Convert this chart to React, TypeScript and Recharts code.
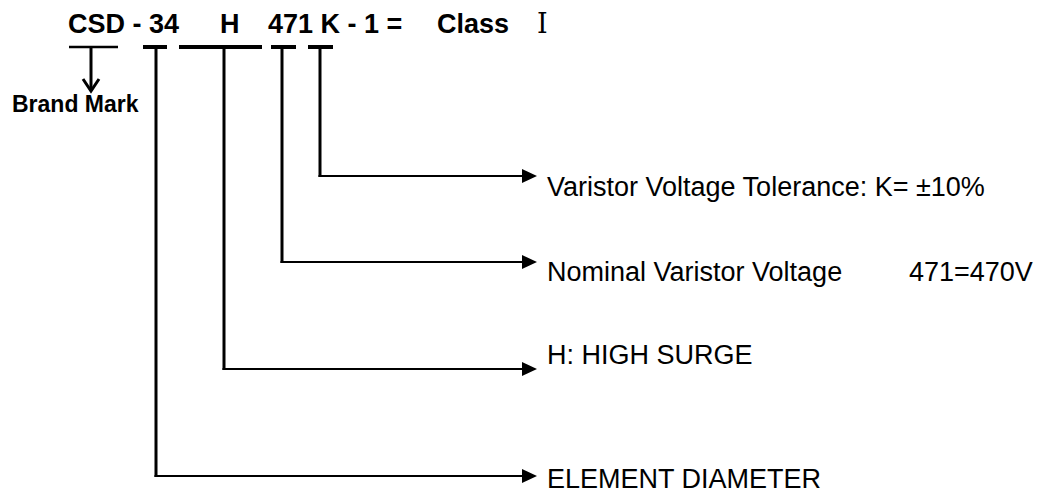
import { Scatter, ScatterChart, XAxis, YAxis } from 'recharts'

// diagram units: one unit = one pixel of the 1042x493 drawing, y grows downward
const W = 1042
const H = 493

const headerBaseline = 33
const headerParts = [
  { x: 68, text: 'CSD - 34' },
  { x: 220, text: 'H' },
  { x: 268, text: '471 K - 1 =' },
  { x: 437, text: 'Class' },
]
const romanNumeral = { x: 537, text: 'Ⅰ' }

const underlineY = 47
const brandUnderline = { from: 69, to: 118 }
const brandArrowX = 91
const brandArrowTip = 91
const brandLabel = { x: 12, y: 112, text: 'Brand Mark' }

// one entry per code segment, top to bottom of the callouts
const codeNames = ['K', '471', 'H', '34']
const codeUnderlineFrom = [308, 271, 179, 143]
const codeUnderlineTo = [333, 296, 262, 167]
const leaderX = [320, 282, 224, 156]
const leaderY = [176, 262, 369, 476]
const arrowTipX = 537
const calloutLabels = [
  'Varistor Voltage Tolerance: K= ±10%',
  'Nominal Varistor Voltage',
  'H: HIGH SURGE',
  'ELEMENT DIAMETER',
]
const labelX = 547
const labelBaseline = [196, 281, 364, 488]
const extraNote = { x: 909, y: 281, text: '471=470V' }

const font = '"Liberation Sans", Arial, Helvetica, sans-serif'

const Empty = () => <g />

type ShapeProps = { cx?: number; cy?: number; payload?: { text?: string } }

const HeaderText = ({ cx, cy, payload }: ShapeProps) => (
  <text x={cx} y={cy} fontFamily={font} fontWeight="bold" fontSize={27} fill="#000">
    {payload?.text}
  </text>
)

const RomanText = ({ cx, cy, payload }: ShapeProps) => (
  <text x={cx} y={cy} fontFamily='"DejaVu Serif", "Liberation Serif", serif' fontSize={27} fill="#000">
    {payload?.text}
  </text>
)

const BrandText = ({ cx, cy, payload }: ShapeProps) => (
  <text x={cx} y={cy} fontFamily={font} fontWeight="bold" fontSize={23} fill="#000">
    {payload?.text}
  </text>
)

const LabelText = ({ cx, cy, payload }: ShapeProps) => (
  <text x={cx} y={cy} fontFamily={font} fontSize={27} fill="#000">
    {payload?.text}
  </text>
)

const ArrowRight = ({ cx = 0, cy = 0 }: ShapeProps) => (
  <polygon points={`${cx},${cy} ${cx - 15},${cy - 7} ${cx - 15},${cy + 7}`} fill="#000" />
)

const ArrowDown = ({ cx = 0, cy = 0 }: ShapeProps) => (
  <polyline
    points={`${cx - 8},${cy - 12} ${cx},${cy} ${cx + 8},${cy - 12}`}
    fill="none"
    stroke="#000"
    strokeWidth={3}
  />
)

export default function App() {
  const headerData = headerParts.map((p) => ({ x: p.x, y: headerBaseline, text: p.text }))
  const romanData = [{ x: romanNumeral.x, y: headerBaseline, text: romanNumeral.text }]
  const brandData = [brandLabel]
  const labelData = calloutLabels
    .map((text, i) => ({ x: labelX, y: labelBaseline[i], text }))
    .concat([extraNote])
  const arrowData = leaderY.map((y) => ({ x: arrowTipX, y }))

  return (
    <div style={{ position: 'absolute', left: 0, top: 0, width: W, height: H, background: '#fff' }}>
      <ScatterChart width={W} height={H} margin={{ top: 0, right: 0, bottom: 0, left: 0 }}>
        <XAxis type="number" dataKey="x" domain={[0, W]} hide allowDataOverflow />
        <YAxis type="number" dataKey="y" domain={[0, H]} reversed hide allowDataOverflow />

        {/* underline under the brand letters and its down arrow */}
        <Scatter
          data={[
            { x: brandUnderline.from, y: underlineY },
            { x: brandUnderline.to, y: underlineY },
          ]}
          line={{ stroke: '#000', strokeWidth: 2.5 }}
          shape={Empty}
          isAnimationActive={false}
        />
        <Scatter
          data={[
            { x: brandArrowX, y: underlineY },
            { x: brandArrowX, y: brandArrowTip },
          ]}
          line={{ stroke: '#000', strokeWidth: 3 }}
          shape={Empty}
          isAnimationActive={false}
        />
        <Scatter data={[{ x: brandArrowX, y: brandArrowTip }]} shape={ArrowDown} isAnimationActive={false} />

        {/* code underlines, leader lines */}
        {codeNames.map((name, i) => (
          <Scatter
            key={`ul-${name}`}
            data={[
              { x: codeUnderlineFrom[i], y: underlineY },
              { x: codeUnderlineTo[i], y: underlineY },
            ]}
            line={{ stroke: '#000', strokeWidth: 4 }}
            shape={Empty}
            isAnimationActive={false}
          />
        ))}
        {codeNames.map((name, i) => (
          <Scatter
            key={`v-${name}`}
            data={[
              { x: leaderX[i], y: underlineY },
              { x: leaderX[i], y: leaderY[i] + 1 },
            ]}
            line={{ stroke: '#000', strokeWidth: 3 }}
            shape={Empty}
            isAnimationActive={false}
          />
        ))}
        {codeNames.map((name, i) => (
          <Scatter
            key={`h-${name}`}
            data={[
              { x: leaderX[i] - 1.5, y: leaderY[i] },
              { x: arrowTipX - 8, y: leaderY[i] },
            ]}
            line={{ stroke: '#000', strokeWidth: 2 }}
            shape={Empty}
            isAnimationActive={false}
          />
        ))}
        <Scatter data={arrowData} shape={ArrowRight} isAnimationActive={false} />

        <Scatter data={headerData} shape={HeaderText} isAnimationActive={false} />
        <Scatter data={romanData} shape={RomanText} isAnimationActive={false} />
        <Scatter data={brandData} shape={BrandText} isAnimationActive={false} />
        <Scatter data={labelData} shape={LabelText} isAnimationActive={false} />
      </ScatterChart>
    </div>
  )
}
